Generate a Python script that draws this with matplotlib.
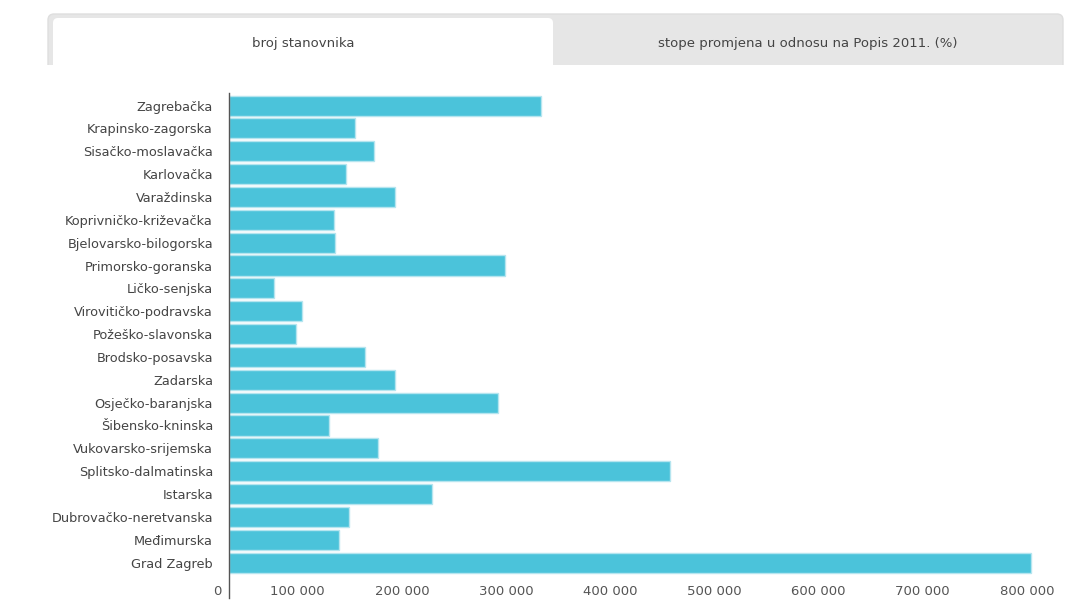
import numpy as np
import matplotlib
matplotlib.use("Agg")
import matplotlib.pyplot as plt
from matplotlib.patches import FancyBboxPatch, Rectangle
from matplotlib.transforms import ScaledTranslation

plt.rcParams['font.family'] = ['DejaVu Sans']

counties = ["Zagrebačka", "Krapinsko-zagorska", "Sisačko-moslavačka", "Karlovačka",
            "Varaždinska", "Koprivničko-križevačka", "Bjelovarsko-bilogorska",
            "Primorsko-goranska", "Ličko-senjska", "Virovitičko-podravska",
            "Požeško-slavonska", "Brodsko-posavska", "Zadarska", "Osječko-baranjska",
            "Šibensko-kninska", "Vukovarsko-srijemska", "Splitsko-dalmatinska",
            "Istarska", "Dubrovačko-neretvanska", "Međimurska", "Grad Zagreb"]
population = [299985, 120702, 139603, 112195, 159487, 101221, 101879, 265419,
              42748, 70368, 64084, 130267, 159766, 258026, 96381, 143113,
              423407, 195237, 115564, 105250, 769944]
xticks = [0, 100000, 200000, 300000, 400000, 500000, 600000, 700000, 800000]
xticklabels = ["0", "100 000", "200 000", "300 000", "400 000", "500 000",
               "600 000", "700 000", "800 000"]
tabs = ["broj stanovnika", "stope promjena u odnosu na Popis 2011. (%)"]

W, H = 1065, 616
fig = plt.figure(figsize=(W / 100, H / 100), dpi=100)
px = 72 / 100  # points per pixel

# tab strip drawn in pixel coords
bg = fig.add_axes([0, 0, 1, 1], zorder=0)
bg.set_xlim(0, W)
bg.set_ylim(H, 0)
bg.axis('off')
bg.add_patch(FancyBboxPatch((48, 14), 1015, 60, boxstyle="round,pad=0,rounding_size=6",
                            fc='#e6e6e6', ec='#dedede', lw=1))
bg.add_patch(Rectangle((40, 65), 1030, 20, fc='white', ec='none'))
bg.add_patch(FancyBboxPatch((53, 18), 500, 55, boxstyle="round,pad=0,rounding_size=5",
                            fc='white', ec='none'))
bg.text(303, 43, tabs[0], ha='center', va='center', fontsize=9.5, color='#444444')
bg.text(808, 43, tabs[1], ha='center', va='center', fontsize=9.5, color='#444444')

# bar chart
left, right, top, bottom = 229, 1062, 93, 598
ax = fig.add_axes([left / W, 1 - bottom / H, (right - left) / W, (bottom - top) / H], zorder=1)
ax.patch.set_alpha(0)
y = np.arange(len(counties))
ax.barh(y, population, height=0.88, color='#4bc3da', edgecolor='#b5e5ef', linewidth=1)
ax.set_xlim(0, 800000)
ax.set_ylim(21.55, -0.55)
ax.set_yticks(y)
ax.set_yticklabels(counties, fontsize=9.3, color='#444444')
ax.set_xticks(xticks)
ax.set_xticklabels(xticklabels, fontsize=9.5, color='#555555')
ax.tick_params(axis='y', length=0, pad=16 * px)
ax.tick_params(axis='x', length=0, pad=-13 * px)
offset = ScaledTranslation(-8 / 100, 0, fig.dpi_scale_trans)
for lab in ax.get_xticklabels():
    lab.set_ha('right')
    lab.set_transform(lab.get_transform() + offset)
for side in ['top', 'right', 'bottom']:
    ax.spines[side].set_visible(False)
ax.spines['left'].set_color('#555555')
ax.spines['left'].set_linewidth(1)

fig.savefig("out.png", dpi=100)
